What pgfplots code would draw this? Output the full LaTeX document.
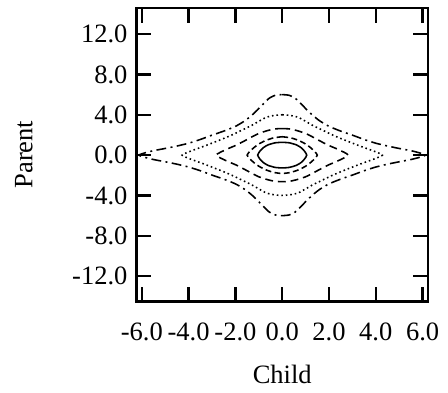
\documentclass[border=0pt]{standalone}
\usepackage{pgfplots}
\pgfplotsset{compat=1.18}
\usepackage{fontspec}
\setmainfont{Liberation Serif}
\begin{document}
\fontsize{27}{32}\selectfont
\begin{tikzpicture}
\begin{axis}[
  scale only axis, width=297pt, height=299pt,
  xmin=-6.23, xmax=6.23, ymin=-14.5, ymax=14.6,
  xtick={-6,-4,-2,0,2,4,6}, ytick={-12,-8,-4,0,4,8,12},
  tick align=inside, major tick length=15pt,
  xtick pos=both, ytick pos=both,
  axis line style={line width=2.4pt},
  tick style={black, line width=2.4pt},
  /pgf/number format/assume math mode=true,
  /pgf/number format/.cd, fixed, fixed zerofill, precision=1,
  /pgfplots/.cd,
  ticklabel style={font=\fontsize{27}{32}\selectfont},
  xticklabel style={yshift=-13pt},
  yticklabel style={xshift=0pt},
  label style={font=\fontsize{27}{32}\selectfont},
  xlabel={Child}, ylabel={Parent},
  xlabel style={yshift=-6pt},
  ylabel style={yshift=22pt},
  clip=false,
]
% dash-dot outer
\addplot[black, line width=1.6pt, smooth, tension=0.4, dash pattern=on 10pt off 4.5pt on 2pt off 4.5pt] coordinates {
(0,6.0) (0.3,5.93) (0.55,5.65) (0.8,5.1) (1.05,4.5) (1.3,3.95) (1.6,3.4) (2.0,2.85) (2.5,2.38) (3.0,1.98) (3.5,1.55) (4.0,1.18) (4.5,0.9) (5.0,0.66) (5.5,0.44) (5.9,0.2) (6.12,0)
(5.9,-0.2) (5.5,-0.44) (5.0,-0.66) (4.5,-0.9) (4.0,-1.18) (3.5,-1.55) (3.0,-1.98) (2.5,-2.38) (2.0,-2.85) (1.6,-3.4) (1.3,-3.95) (1.05,-4.5) (0.8,-5.1) (0.55,-5.65) (0.3,-5.93) (0,-6.0)
(-0.3,-5.93) (-0.55,-5.65) (-0.8,-5.1) (-1.05,-4.5) (-1.3,-3.95) (-1.6,-3.4) (-2.0,-2.85) (-2.5,-2.38) (-3.0,-1.98) (-3.5,-1.55) (-4.0,-1.18) (-4.5,-0.9) (-5.0,-0.66) (-5.5,-0.44) (-5.9,-0.2) (-6.12,0)
(-5.9,0.2) (-5.5,0.44) (-5.0,0.66) (-4.5,0.9) (-4.0,1.18) (-3.5,1.55) (-3.0,1.98) (-2.5,2.38) (-2.0,2.85) (-1.6,3.4) (-1.3,3.95) (-1.05,4.5) (-0.8,5.1) (-0.55,5.65) (-0.3,5.93) (0,6.0)
};
% dotted
\addplot[black, line width=1.6pt, smooth, tension=0.4, dash pattern=on 1.6pt off 3pt] coordinates {
(0,4.0) (0.35,3.93) (0.68,3.75) (1.0,3.35) (1.3,2.95) (1.7,2.5) (2.1,2.05) (2.5,1.65) (2.9,1.28) (3.3,0.92) (3.7,0.58) (4.0,0.32) (4.28,0)
(4.0,-0.32) (3.7,-0.58) (3.3,-0.92) (2.9,-1.28) (2.5,-1.65) (2.1,-2.05) (1.7,-2.5) (1.3,-2.95) (1.0,-3.35) (0.68,-3.75) (0.35,-3.93) (0,-4.0)
(-0.35,-3.93) (-0.68,-3.75) (-1.0,-3.35) (-1.3,-2.95) (-1.7,-2.5) (-2.1,-2.05) (-2.5,-1.65) (-2.9,-1.28) (-3.3,-0.92) (-3.7,-0.58) (-4.0,-0.32) (-4.28,0)
(-4.0,0.32) (-3.7,0.58) (-3.3,0.92) (-2.9,1.28) (-2.5,1.65) (-2.1,2.05) (-1.7,2.5) (-1.3,2.95) (-1.0,3.35) (-0.68,3.75) (-0.35,3.93) (0,4.0)
};
% long dashes
\addplot[black, line width=1.6pt, smooth, tension=0.4, dash pattern=on 8pt off 5pt] coordinates {
(0,2.63) (0.3,2.6) (0.6,2.45) (1.0,2.15) (1.3,1.8) (1.7,1.3) (2.0,0.95) (2.4,0.55) (2.82,0)
(2.4,-0.55) (2.0,-0.95) (1.7,-1.3) (1.3,-1.8) (1.0,-2.15) (0.6,-2.45) (0.3,-2.6) (0,-2.63)
(-0.3,-2.6) (-0.6,-2.45) (-1.0,-2.15) (-1.3,-1.8) (-1.7,-1.3) (-2.0,-0.95) (-2.4,-0.55) (-2.82,0)
(-2.4,0.55) (-2.0,0.95) (-1.7,1.3) (-1.3,1.8) (-1.0,2.15) (-0.6,2.45) (-0.3,2.6) (0,2.63)
};
% medium dashes
\addplot[black, line width=1.6pt, smooth, tension=0.4, dash pattern=on 6pt off 3.5pt] coordinates {
(0,1.82) (0.35,1.72) (0.7,1.46) (1.0,1.1) (1.2,0.76) (1.38,0.38) (1.5,0)
(1.38,-0.38) (1.2,-0.76) (1.0,-1.1) (0.7,-1.46) (0.35,-1.72) (0,-1.82)
(-0.35,-1.72) (-0.7,-1.46) (-1.0,-1.1) (-1.2,-0.76) (-1.38,-0.38) (-1.5,0)
(-1.38,0.38) (-1.2,0.76) (-1.0,1.1) (-0.7,1.46) (-0.35,1.72) (0,1.82)
};
% solid
\addplot[black, line width=1.6pt, smooth, tension=0.35] coordinates {
(0,1.27) (0.3,1.22) (0.6,1.02) (0.8,0.75) (0.95,0.4) (1.05,0)
(0.95,-0.4) (0.8,-0.75) (0.6,-1.02) (0.3,-1.22) (0,-1.27)
(-0.3,-1.22) (-0.6,-1.02) (-0.8,-0.75) (-0.95,-0.4) (-1.05,0)
(-0.95,0.4) (-0.8,0.75) (-0.6,1.02) (-0.3,1.22) (0,1.27)
};
\end{axis}
\path ([xshift=-139pt,yshift=-82pt]current axis.south west) rectangle ([xshift=12pt,yshift=8pt]current axis.north east);
\end{tikzpicture}
\end{document}
